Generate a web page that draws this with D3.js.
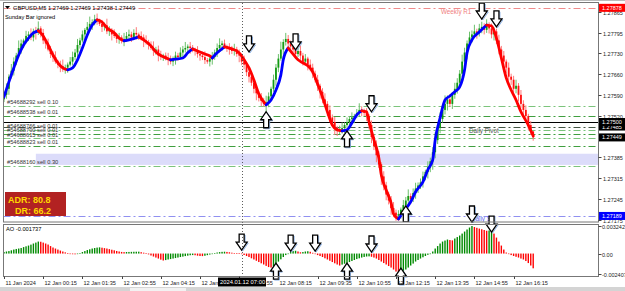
<!DOCTYPE html>
<html>
<head>
<meta charset="utf-8">
<script src="https://cdn.jsdelivr.net/npm/d3@7"></script>
<style>
  body { margin: 0; background: #fff; }
  svg { display: block; font-family: "Liberation Sans", Arial, sans-serif; }
</style>
</head>
<body>
<div id="chart"></div>
<script>
// ---- data (prices in points above 1.27000, AO in millionths) ----
const base = 1.27;
const firstOpen = 575;

const closes = [
  590,610,650,670,700,720,745,760,770,785,790,780,800,795,810,
  795,770,760,740,725,715,700,690,685,675,680,690,
  700,715,730,755,770,790,805,815,825,830,840,835,
  825,815,820,800,805,790,785,775,780,770,775,
  785,790,780,795,790,785,780,
  770,765,755,745,735,740,720,715,720,710,705,700,
  710,720,715,730,740,745,750,745,740,
  735,725,720,715,705,700,710,715,
  730,745,755,760,750,
  745,740,735,740,725,720,700,690,665,650,630,610,595,580,570,560,565,
  585,610,640,680,710,740,765,775,760,
  750,740,725,735,720,700,710,690,680,660,640,620,600,575,560,540,515,500,480,470,475,480,
  490,500,510,515,520,530,540,535,530,
  520,490,450,420,390,360,320,290,260,240,215,200,190,195,
  210,225,240,255,245,265,280,290,300,320,335,350,370,400,440,480,510,540,560,575,560,590,610,630,660,700,730,760,780,790,800,795,810,815,805,820,
  810,790,800,770,740,720,700,680,650,640,610,620,590,560,540,520,490,469,449
];

const upWick = [
  12,18,8,22,14,9,25,13,6,17,10,20,9,15,23,7,13,5,16,12,
  9,19,6,13,22,10,7,15,18,12,20,9,13,6,16,24,10,15,19,7,
  13,9,22,12,6,17,10,15,7,20,13,16,9,12,19,6,15,10,17,7,
  12,22,9,13,16,6,10,19,15,7,13,9,17,12,20,7,15,10,6,16,
  9,13,19,7,12,17,10,15,22,9,13,6,16,12,19,9,15,7,20,10,
  13,17,9,12,6,16,10,22,13,7,17,12,15,26,9,20,13,10,16,7,
  12,19,9,15,6,17,13,10,16,7,12,20,9,15,10,17,7,13,19,9,
  15,10,17,7,13,22,12,9,16,6,15,10,19,13,7,17,12,9,15,20,
  10,13,7,17,12,22,9,15,19,10,13,16,7,20,12,17,26,15,22,10,
  28,13,17,9,20,15,12,23,16,10,19,13,22,9,15,17,12,20,10,16,
  13,9,19,12,15,7,17,10,13,20,9,16,12,15,7,13,0
];

const dnWick = [
  9,13,20,6,16,12,7,19,15,10,17,9,13,22,7,15,12,17,6,13,
  16,7,12,20,9,15,17,6,13,10,19,12,7,16,9,15,20,10,13,7,
  17,12,9,15,20,7,13,16,10,19,9,12,15,6,17,13,10,22,9,15,
  7,16,12,19,10,13,6,17,9,15,20,12,7,16,10,13,19,9,15,12,
  17,10,13,7,16,20,9,15,12,19,7,13,17,10,15,9,22,12,16,13,
  19,10,15,23,12,17,9,26,16,13,10,20,15,7,17,12,13,19,9,15,
  10,16,13,7,19,12,15,9,17,22,13,10,20,15,12,23,16,10,13,17,
  9,15,12,19,7,13,16,10,17,15,20,13,23,12,28,16,19,13,22,15,
  17,12,15,9,20,13,16,10,19,15,12,17,13,22,16,28,20,13,17,12,
  15,22,10,17,13,16,20,12,15,23,10,17,13,19,12,16,15,10,17,13,
  20,12,16,15,10,19,13,17,12,15,22,13,16,10,17,12,11
];

// smoothed trend line, read at key bars
const maBars = [0,2,4,6,8,10,12,14,16,18,20,22,24,26,28,30,32,34,36,38,40,42,45,47,49,51,55,
  57,60,62,65,68,70,73,75,77,79,82,84,85,87,90,93,96,98,100,102,104,107,109,111,113,114,116,
  118,120,122,124,126,128,130,132,134,136,138,140,142,144,146,148,149,151,153,154,156,158,159,161,
  163,166,168,171,173,175,176,178,180,182,184,186,188,189,191,194,197,199,201,203,205,207,209,211,214,216];
const maPts = [583,633,679,722,755,778,795,802,785,755,722,696,679,673,679,706,745,788,821,838,831,812,795,778,769,772,782,
  772,752,732,716,706,708,712,729,742,735,725,719,712,729,749,742,729,706,679,639,593,557,573,606,656,706,745,
  725,706,696,686,666,626,583,534,490,474,471,474,497,524,537,534,500,441,381,325,275,232,196,179,
  202,236,269,302,342,375,441,514,573,586,600,616,673,729,772,798,821,818,778,712,646,606,573,534,490,454];

const aoVals = [
  180,240,290,380,470,540,590,650,760,850,940,1050,1180,1290,1410,
  1390,1290,1180,1060,880,710,590,470,350,240,140,60,-20,-80,-90,
  -60,60,180,290,410,500,590,650,700,730,
  690,640,590,520,450,380,300,240,190,170,
  180,190,200,210,215,220,
  160,100,20,-100,-230,-350,-470,-590,-720,-820,
  -770,-700,-650,-590,-530,-470,-410,-360,-300,-250,-200,-180,
  -200,-250,-290,-300,
  -260,-190,-120,-40,60,120,170,200,215,
  190,150,100,60,40,30,0,-170,-290,-410,-560,-700,-850,-1000,-1150,-1290,-1450,-1590,-1650,
  -1480,-1200,-950,-680,-410,-180,0,170,290,330,
  240,150,
  180,240,270,
  210,90,-50,-180,-290,-410,-560,-700,-850,-1000,-1150,-1290,-1410,
  -1300,-1200,-1120,-1000,-880,-760,-650,-560,-470,-400,-350,-330,
  -380,-470,-590,-760,-940,-1120,-1290,-1470,-1650,-1880,-2120,-2407,
  -2240,-2060,-1880,-1650,-1410,-1180,-940,-760,-590,-440,-290,-150,0,240,590,880,1180,1410,1530,1650,
  1590,1550,
  1770,1940,2120,2350,2590,2830,3060,3242,
  3120,3030,2940,2860,2770,2680,
  2710,2740,
  2350,1880,1410,940,470,120,-60,-180,-290,-380,-470,-590,-700,-880,-1120,-1410,-1737
];

const timeLabelBars = [0,16,32,48,64,80,96,112,128,144,160,176,192,208];
const timeLabels = ["11 Jan 2024","12 Jan 00:15","12 Jan 01:35","12 Jan 02:55","12 Jan 04:15",
  "12 Jan 05:35","12 Jan 06:55","12 Jan 08:15","12 Jan 09:35","12 Jan 10:55","12 Jan 12:15",
  "12 Jan 13:35","12 Jan 14:55","12 Jan 16:15"];

const priceTicks = [1.27865,1.27795,1.27730,1.27660,1.27590,1.27520,1.27385,1.27315,1.27245,1.27175];

const orderIds = ["#54688292","#54688538","#54688766","#54688790","#54688615","#54688823","#54688160"];
const orderLots = ["0.10","0.01","0.01","0.01","0.01","0.01","0.30"];
const orderPrices = [1.27553,1.27521,1.27475,1.27461,1.27446,1.27420,1.27356];

const weeklyR1 = 1.27878, dailyPivot = 1.27485, dailyS1 = 1.27189, blackLevel = 1.27500, bid = 1.27449;
const zoneTop = 1.27395, zoneBottom = 1.27358, zoneStartBar = 13;

// arrows on price panel: bar, tip price, direction
const arrowBars = [100,119,107,140,150,164,195,201];
const arrowPrices = [1.27732,1.27739,1.27534,1.27471,1.27534,1.27222,1.27841,1.27815];
const arrowDirs = ["down","down","up","up","down","up","down","down"];
// arrows on AO panel: bar, tip value, direction
const aoArrowBars = [97,117,127,150,191,199,111,140,162];
const aoArrowVals = [0.00041,0.00029,0.00029,0.00018,0.00371,0.00253,-0.00112,-0.00112,-0.00171];
const aoArrowDirs = ["down","down","down","down","down","down","up","up","up"];

const crossBar = 97;

// ---- drawing ----
const W = 625, H = 291;
const svg = d3.select("#chart").append("svg").attr("width", W).attr("height", H);

const x = d3.scaleLinear().domain([0, 216]).range([4, 533.2]);
const y = d3.scaleLinear().domain([1.27169, 1.27894]).range([222, 3]);
const yAo = d3.scaleLinear().domain([-0.002407, 0.003242]).range([274, 226]);
const px = p => base + p / 100000;

const left = 3.5, right = 598.5;

svg.append("rect").attr("width", W).attr("height", H).attr("fill", "#fff");
svg.append("rect").attr("x", 0).attr("y", 287).attr("width", W).attr("height", 4).attr("fill", "#d4d4d4");
svg.append("rect").attr("x", 130).attr("y", 288).attr("width", 56).attr("height", 3).attr("fill", "#f2f2f2");

const defs = svg.append("defs");
defs.append("clipPath").attr("id", "clipMain").append("rect")
  .attr("x", left).attr("y", 3).attr("width", right - left).attr("height", 219);
defs.append("clipPath").attr("id", "clipAo").append("rect")
  .attr("x", left).attr("y", 225).attr("width", right - left).attr("height", 51);

const main = svg.append("g").attr("clip-path", "url(#clipMain)");

// zone band
main.append("rect")
  .attr("x", x(zoneStartBar)).attr("y", y(zoneTop))
  .attr("width", right - x(zoneStartBar)).attr("height", y(zoneBottom) - y(zoneTop))
  .attr("fill", "#dcdcfa");

// horizontal levels
function hline(price, color, dash, w) {
  main.append("line").attr("x1", left).attr("x2", right)
    .attr("y1", Math.round(y(price)) + 0.5).attr("y2", Math.round(y(price)) + 0.5)
    .attr("stroke", color).attr("stroke-width", w || 1)
    .attr("stroke-dasharray", dash);
}
hline(weeklyR1, "#f08a8a", "7,3,2,3");
orderPrices.forEach((p, i) => hline(p, i % 2 ? "#3f9f3f" : "#7cc47c", "7,3,2,3"));
hline(dailyPivot, "#445544", "7,3,2,3");
hline(blackLevel, "#000", null, 1.2);
hline(dailyS1, "#9090f0", "7,3,2,3");

// order labels
orderIds.forEach((id, i) => {
  main.append("text").attr("x", 7).attr("y", y(orderPrices[i]) - 1.8)
    .attr("font-size", 5.7).attr("fill", "#333")
    .text(id + " sell " + orderLots[i]);
});

// level labels
main.append("text").attr("x", 441).attr("y", y(weeklyR1) + 6).attr("font-size", 6.3)
  .attr("fill", "#f08080").text("Weekly R1");
main.append("text").attr("x", 469).attr("y", y(dailyPivot) + 6).attr("font-size", 6.3)
  .attr("fill", "#555").text("Daily Pivot");
main.append("text").attr("x", 471).attr("y", y(dailyS1) + 5).attr("font-size", 6.3)
  .attr("fill", "#6a6af0").text("Daily S1");

// candles
const candles = closes.map((c, i) => {
  const o = i === 0 ? firstOpen : closes[i - 1];
  return { i, o, c, h: Math.max(o, c) + upWick[i], l: Math.min(o, c) - dnWick[i] };
});
const cg = main.append("g");
cg.selectAll("line").data(candles).join("line")
  .attr("x1", d => x(d.i)).attr("x2", d => x(d.i))
  .attr("y1", d => y(px(d.h))).attr("y2", d => y(px(d.l)))
  .attr("stroke", d => d.c >= d.o ? "#6cc06c" : "#ff7a7a").attr("stroke-width", 1);
cg.selectAll("rect").data(candles).join("rect")
  .attr("x", d => x(d.i) - 0.9).attr("width", 1.8)
  .attr("y", d => y(px(Math.max(d.o, d.c))))
  .attr("height", d => Math.max(0.8, Math.abs(y(px(d.o)) - y(px(d.c)))))
  .attr("fill", d => d.c >= d.o ? "#139a13" : "#ff1010");

// trend line split into rising / falling runs
const runs = [];
let run = [0];
for (let k = 1; k < maBars.length; k++) {
  const up = maPts[k] > maPts[k - 1];
  if (run.length > 1 && up !== run.up) { runs.push(run); run = [k - 1]; }
  run.up = up;
  run.push(k);
}
runs.push(run);
const maLine = d3.line()
  .x(k => x(maBars[k])).y(k => y(px(maPts[k])))
  .curve(d3.curveMonotoneX);
runs.forEach(r => {
  main.append("path").attr("d", maLine(r)).attr("fill", "none")
    .attr("stroke", r.up ? "#0000ff" : "#ff0000").attr("stroke-width", 2.8)
    .attr("stroke-linecap", "round").attr("stroke-linejoin", "round");
});

// block arrows
function arrowPath(cx, tip, dir) {
  const s = dir === "down" ? -1 : 1; // body extends away from the tip
  const pts = [[cx, tip], [cx + 5.5, tip + s * 8], [cx + 2.5, tip + s * 8], [cx + 2.5, tip + s * 16],
    [cx - 2.5, tip + s * 16], [cx - 2.5, tip + s * 8], [cx - 5.5, tip + s * 8]];
  return "M" + pts.map(p => p.join(",")).join("L") + "Z";
}
function drawArrow(g, cx, tip, dir) {
  g.append("path").attr("d", arrowPath(cx + 1, tip + 1, dir))
    .attr("fill", "none").attr("stroke", "#8fb4e8").attr("stroke-width", 1);
  g.append("path").attr("d", arrowPath(cx, tip, dir))
    .attr("fill", "#fff").attr("stroke", "#000").attr("stroke-width", 1.3);
}
const arrowsMain = svg.append("g").attr("clip-path", "url(#clipMain)");
arrowBars.forEach((b, i) => drawArrow(arrowsMain, x(b), y(arrowPrices[i]), arrowDirs[i]));

// info texts
svg.append("path").attr("d", "M5,6L10,6L7.5,9Z").attr("fill", "#000");
svg.append("text").attr("x", 13).attr("y", 10).attr("font-size", 5.7).attr("fill", "#000")
  .text("GBPUSD,M5  1.27469 1.27469 1.27438 1.27449");
svg.append("text").attr("x", 5).attr("y", 19).attr("font-size", 5.7).attr("fill", "#000")
  .text("Sunday Bar ignored");

// ADR box
svg.append("rect").attr("x", 5).attr("y", 192).attr("width", 61).attr("height", 24)
  .attr("fill", "#b22222");
svg.append("text").attr("x", 8).attr("y", 203).attr("font-size", 9).attr("font-weight", "bold")
  .attr("fill", "#ffd700").text("ADR: 80.8");
svg.append("text").attr("x", 15).attr("y", 213.5).attr("font-size", 9).attr("font-weight", "bold")
  .attr("fill", "#ffd700").text("DR: 66.2");

// AO histogram
const ao = svg.append("g").attr("clip-path", "url(#clipAo)");
ao.selectAll("rect").data(aoVals).join("rect")
  .attr("x", (v, i) => x(i) - 0.7).attr("width", 1.4)
  .attr("y", v => Math.min(yAo(0), yAo(v / 1e6)))
  .attr("height", v => Math.max(0.6, Math.abs(yAo(v / 1e6) - yAo(0))))
  .attr("fill", (v, i) => (i === 0 || v > aoVals[i - 1]) ? "#008a00" : "#ff0000");
svg.append("text").attr("x", 6).attr("y", 231).attr("font-size", 5.7).attr("fill", "#000")
  .text("AO -0.001737");

const arrowsAo = svg.append("g");
aoArrowBars.forEach((b, i) => drawArrow(arrowsAo, x(b), yAo(aoArrowVals[i]), aoArrowDirs[i]));

// crosshair
svg.append("line").attr("x1", Math.round(x(crossBar)) + 0.5).attr("x2", Math.round(x(crossBar)) + 0.5)
  .attr("y1", 3).attr("y2", 276).attr("stroke", "#333").attr("stroke-width", 0.8)
  .attr("stroke-dasharray", "1,2");

// panel frames
svg.append("rect").attr("x", left).attr("y", 2.5).attr("width", right - left).attr("height", 219.5)
  .attr("fill", "none").attr("stroke", "#777");
svg.append("rect").attr("x", left).attr("y", 224.5).attr("width", right - left).attr("height", 52)
  .attr("fill", "none").attr("stroke", "#777");
svg.append("line").attr("x1", 0).attr("x2", W).attr("y1", 0.5).attr("y2", 0.5).attr("stroke", "#bbb");

// price axis
const axisG = svg.append("g").attr("font-size", 5.5).attr("fill", "#222");
priceTicks.forEach(p => {
  const yy = Math.round(y(p)) + 0.5;
  axisG.append("line").attr("x1", right).attr("x2", right + 3).attr("y1", yy).attr("y2", yy)
    .attr("stroke", "#444");
  axisG.append("text").attr("x", 603).attr("y", yy + 2).text(p.toFixed(5));
});
function priceBox(p, fill, txt) {
  const yy = y(p);
  svg.append("rect").attr("x", 599).attr("y", yy - 4).attr("width", 26).attr("height", 8).attr("fill", fill);
  svg.append("text").attr("x", 602).attr("y", yy + 2).attr("font-size", 5.5).attr("fill", "#fff")
    .text(txt || p.toFixed(5));
}
priceBox(weeklyR1, "#ff0000");
priceBox(dailyPivot, "#000");
priceBox(blackLevel, "#000");
priceBox(bid, "#000");
priceBox(dailyS1, "#0000ff");

// AO axis
[[0.003242, "0.003242"], [0, "0.00"], [-0.002407, "-0.002407"]].forEach(([v, t]) => {
  const yy = Math.round(yAo(v)) + 0.5;
  svg.append("line").attr("x1", right).attr("x2", right + 3).attr("y1", yy).attr("y2", yy).attr("stroke", "#444");
  svg.append("text").attr("x", 602).attr("y", yy + 2).attr("font-size", 5.5).attr("fill", "#222").text(t);
});

// time axis
timeLabelBars.forEach((b, i) => {
  const xx = Math.round(x(b)) + 0.5;
  svg.append("line").attr("x1", xx).attr("x2", xx).attr("y1", 276.5).attr("y2", 279).attr("stroke", "#444");
  svg.append("text").attr("x", xx + 1).attr("y", 284.5).attr("font-size", 5.6).attr("fill", "#222")
    .text(timeLabels[i]);
});
svg.append("rect").attr("x", 218).attr("y", 277.5).attr("width", 48).attr("height", 9).attr("fill", "#000");
svg.append("text").attr("x", 220).attr("y", 284.3).attr("font-size", 5.8).attr("fill", "#fff")
  .text("2024.01.12 07:00");
</script>
</body>
</html>
